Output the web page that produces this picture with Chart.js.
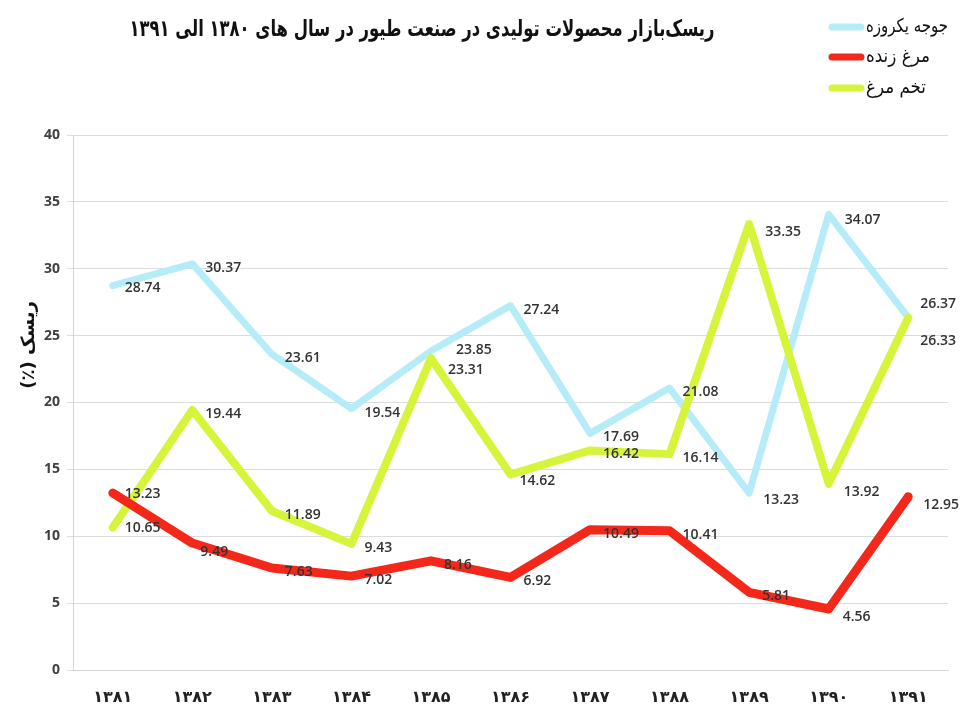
<!DOCTYPE html>
<html>
<head>
<meta charset="utf-8">
<script src="https://cdn.jsdelivr.net/npm/chart.js@4.4.1/dist/chart.umd.min.js"></script>
<style>
html,body{margin:0;padding:0;background:#fff;}
#wrap{width:963px;height:717px;position:relative;}
</style>
</head>
<body>
<div id="wrap"><canvas id="c" width="963" height="717"></canvas></div>
<script>
// ---- data ----
const years = ['۱۳۸۱','۱۳۸۲','۱۳۸۳','۱۳۸۴','۱۳۸۵','۱۳۸۶','۱۳۸۷','۱۳۸۸','۱۳۸۹','۱۳۹۰','۱۳۹۱'];
const chicks   = [28.74, 30.37, 23.61, 19.54, 23.85, 27.24, 17.69, 21.08, 13.23, 34.07, 26.37];
const broilers = [13.23, 9.49, 7.63, 7.02, 8.16, 6.92, 10.49, 10.41, 5.81, 4.56, 12.95];
const eggs     = [10.65, 19.44, 11.89, 9.43, 23.31, 14.62, 16.42, 16.14, 33.35, 13.92, 26.33];
const seriesNames = ['جوجه یکروزه', 'مرغ زنده', 'تخم مرغ'];
const titleText = 'ریسک‌بازار محصولات تولیدی در صنعت طیور در سال های ۱۳۸۰ الی ۱۳۹۱';
const yAxisTitle = 'ریسک (٪)';
const yMin = 0, yMax = 40, yStep = 5;

// ---- styles ----
const colors = ['rgb(182,236,247)', 'rgb(244,40,26)', 'rgb(214,244,58)'];
const widths = [7, 9, 8];
const drawOrder = [3, 1, 2]; // higher = drawn underneath
const labelFont = '600 14px "Open Sans"';
const defaultOffset = [13, 4];
const offsetOverrides = {
  '0:4': [25, -1], '0:10': [12, -13], '0:9': [16, 6], '0:8': [14, 7],
  '2:4': [17, 12], '2:10': [12, 23], '2:8': [16, 8], '2:9': [15, 8], '2:5': [9, 7],
  '1:1': [8, 9], '1:9': [14, 8], '1:10': [15, 8], '1:0': [12, 1],
  '0:0': [12, 2], '2:0': [12, 0]
};

const decorPlugin = {
  id: 'decor',
  afterDatasetsDraw(chart) {
    const ctx = chart.ctx;
    ctx.save();
    ctx.font = labelFont;
    ctx.fillStyle = '#333';
    ctx.textAlign = 'left';
    ctx.textBaseline = 'middle';
    ctx.direction = 'ltr';
    chart.data.datasets.forEach((ds, di) => {
      const meta = chart.getDatasetMeta(di);
      meta.data.forEach((pt, i) => {
        const off = offsetOverrides[di + ':' + i] || defaultOffset;
        ctx.fillText(ds.data[i].toFixed(2), pt.x + off[0], pt.y + off[1]);
      });
    });
    ctx.restore();
  },
  afterDraw(chart) {
    const ctx = chart.ctx;
    ctx.save();
    // title (compressed horizontally to the reference width)
    ctx.direction = 'rtl';
    ctx.fillStyle = '#111';
    ctx.textAlign = 'center';
    ctx.textBaseline = 'middle';
    ctx.font = 'bold 23px "DejaVu Sans"';
    const w = ctx.measureText(titleText).width;
    const sx = Math.min(1, 585 / w);
    ctx.save();
    ctx.translate(422, 30);
    ctx.scale(sx, 1);
    ctx.fillText(titleText, 0, 0);
    ctx.restore();

    // legend
    const ly = [27, 57, 88];
    for (let k = 0; k < 3; k++) {
      ctx.strokeStyle = colors[k];
      ctx.lineWidth = 7;
      ctx.lineCap = 'round';
      ctx.beginPath();
      ctx.moveTo(832, ly[k]);
      ctx.lineTo(861, ly[k]);
      ctx.stroke();
      ctx.fillStyle = '#111';
      ctx.font = '19px "DejaVu Sans"';
      const tw = ctx.measureText(seriesNames[k]).width;
      const maxW = [82, 64, 60][k];
      const s = Math.min(1, maxW / tw);
      ctx.save();
      ctx.translate(866, ly[k]);
      ctx.scale(s, 1);
      ctx.direction = 'rtl';
      ctx.textAlign = 'left';
      ctx.fillText(seriesNames[k], 0, 0);
      ctx.restore();
    }

    // y axis title
    ctx.translate(29, 345);
    ctx.rotate(-Math.PI / 2);
    ctx.direction = 'rtl';
    ctx.textAlign = 'center';
    ctx.font = 'bold 18px "DejaVu Sans"';
    ctx.fillStyle = '#111';
    ctx.fillText(yAxisTitle, 0, 0);
    ctx.restore();
  }
};

const datasets = [chicks, broilers, eggs].map((arr, k) => ({
  label: seriesNames[k],
  data: arr,
  borderColor: colors[k],
  backgroundColor: colors[k],
  borderWidth: widths[k],
  pointRadius: 0,
  pointHoverRadius: 0,
  tension: 0,
  fill: false,
  borderJoinStyle: 'round',
  borderCapStyle: 'round',
  order: drawOrder[k]
}));

new Chart(document.getElementById('c'), {
  type: 'line',
  data: { labels: years, datasets },
  options: {
    responsive: false,
    animation: false,
    events: [],
    layout: { padding: { top: 135, right: 15, left: 0, bottom: 0 } },
    plugins: { legend: { display: false }, title: { display: false }, tooltip: { enabled: false } },
    scales: {
      x: {
        offset: true,
        grid: { display: false },
        border: { display: true, color: '#d4d4d4', width: 1 },
        ticks: {
          padding: 10,
          color: '#222',
          font: { family: 'DejaVu Sans', size: 16, weight: 'bold' },
          maxRotation: 0
        },
        afterFit(scale) { scale.height = 47; }
      },
      y: {
        min: yMin, max: yMax,
        ticks: {
          stepSize: yStep,
          padding: 7,
          color: '#404040',
          font: { family: 'Open Sans', size: 14, weight: 'bold' }
        },
        grid: { color: '#dcdcdc', lineWidth: 1, tickLength: 6, drawTicks: true },
        border: { display: true, color: '#d4d4d4', width: 1 },
        afterFit(scale) { scale.width = 73; }
      }
    }
  },
  plugins: [decorPlugin]
});
</script>
</body>
</html>
